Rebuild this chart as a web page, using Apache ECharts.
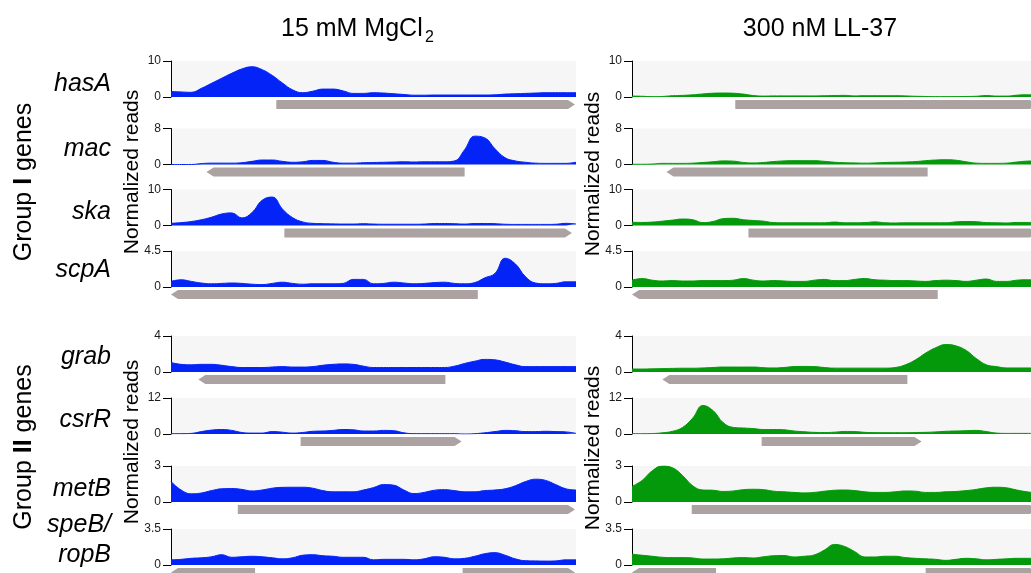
<!DOCTYPE html>
<html><head><meta charset="utf-8">
<script src="https://cdn.jsdelivr.net/npm/echarts@6/dist/echarts.min.js"></script>
<style>html,body{margin:0;padding:0;background:#fff}#c{width:1031px;height:573px}</style>
</head><body><div id="c"></div><script>
// ---------- data ----------
const geneNames = ['hasA','mac','ska','scpA','grab','csrR','metB','speB/ropB'];
const yMax = [10, 8, 10, 4.5, 4, 12, 3, 3.5];
const panelTitles = ['15 mM MgCl', '300 nM LL-37'];

// 15 mM MgCl2 (blue) normalized reads, evenly spaced positions 0..40
const mgHasA = [1.5,1.4,1.3,2.4,3.8,5.2,6.6,7.8,8.4,7.6,6.0,3.9,2.0,1.2,1.6,2.2,2.2,1.7,1.0,1.0,1.2,1.1,0.9,0.7,0.5,0.5,0.55,0.55,0.55,0.55,0.55,0.55,0.6,0.8,0.9,1.0,1.1,1.2,1.2,1.2,1.2];
const mgMac  = [0,0,0,0.2,0.3,0.3,0.3,0.4,0.7,1.0,1.0,0.7,0.5,0.6,0.9,0.9,0.5,0.3,0.3,0.4,0.45,0.5,0.55,0.6,0.55,0.6,0.6,0.6,0.8,3.3,6.3,5.9,3.5,1.5,0.8,0.5,0.3,0.25,0.25,0.25,0.5];
const mgSka  = [0.6,0.8,1.1,1.6,2.3,3.2,3.5,2.1,3.6,7.0,7.9,4.6,2.2,1.0,0.6,0.5,0.45,0.4,0.4,0.5,0.4,0.35,0.35,0.35,0.35,0.4,0.55,0.55,0.5,0.4,0.55,0.55,0.5,0.35,0.3,0.3,0.3,0.3,0.35,0.6,0.4];
const mgScpA = [0.7,0.9,0.7,0.5,0.4,0.45,0.5,0.45,0.35,0.3,0.45,0.6,0.45,0.35,0.4,0.4,0.4,0.45,0.95,0.95,0.4,0.45,0.6,0.5,0.4,0.45,0.55,0.6,0.45,0.4,0.55,1.15,1.7,3.6,2.9,1.3,0.5,0.4,0.45,0.65,0.65];
const mgGrab = [1.05,0.85,0.8,0.85,0.85,0.75,0.6,0.5,0.5,0.5,0.55,0.6,0.55,0.55,0.6,0.75,0.85,0.9,0.85,0.65,0.5,0.5,0.5,0.5,0.5,0.5,0.5,0.5,0.65,0.95,1.2,1.4,1.35,1.1,0.8,0.6,0.6,0.6,0.6,0.6,0.6];
const mgCsrR = [0.1,0.1,0.2,0.8,1.3,1.5,1.2,0.5,0.3,0.3,0.8,0.6,0.3,0.5,0.9,1.0,1.2,1.5,1.4,1.0,1.0,1.2,1.1,0.4,0.1,0.1,0.1,0.1,0.1,0,0.1,0.4,0.8,1.2,1.1,0.8,0.8,0.9,0.8,0.7,0.2];
const mgMetB = [1.7,1.0,0.68,0.75,0.95,1.1,1.12,1.05,0.92,1.0,1.15,1.22,1.23,1.23,1.15,0.95,0.85,0.85,0.85,1.0,1.2,1.45,1.4,1.0,0.7,0.8,0.98,1.03,0.95,0.85,0.85,0.95,1.0,1.1,1.35,1.7,1.9,1.8,1.45,1.1,1.0];
const mgSpeB = [0.5,0.55,0.65,0.7,0.8,1.0,0.75,0.8,0.85,0.8,0.7,0.6,0.7,0.95,1.0,0.9,0.85,0.75,0.75,0.75,0.5,0.55,0.55,0.55,0.5,0.6,0.8,0.75,0.6,0.65,0.85,1.1,1.2,0.95,0.6,0.42,0.4,0.38,0.4,0.5,0.5];

// 300 nM LL-37 (green) normalized reads
const llHasA = [0.25,0.2,0.1,0.15,0.35,0.45,0.6,0.85,1.05,1.1,1.05,0.8,0.4,0.25,0.3,0.3,0.3,0.3,0.3,0.35,0.4,0.45,0.3,0.35,0.35,0.35,0.35,0.3,0.2,0.15,0.1,0.1,0.1,0.15,0.2,0.4,0.25,0.25,0.5,0.6,0.6];
const llMac  = [0.05,0.05,0.1,0.25,0.25,0.25,0.3,0.45,0.6,0.8,0.75,0.45,0.35,0.45,0.65,0.8,0.85,0.85,0.85,0.7,0.5,0.4,0.35,0.3,0.35,0.45,0.5,0.55,0.65,0.85,1.0,1.05,0.95,0.6,0.3,0.25,0.25,0.3,0.55,0.75,0.8];
const llSka  = [0.9,0.85,0.95,1.2,1.5,1.8,1.6,0.8,1.1,1.9,2.0,1.6,1.4,1.2,0.8,0.75,0.75,0.75,0.75,0.75,0.95,0.75,0.75,0.8,1.0,0.75,0.7,0.75,0.75,0.75,0.75,0.75,1.0,1.1,1.05,0.8,0.75,0.7,0.85,0.85,0.85];
const llScpA = [0.85,1.05,0.85,0.75,0.8,0.75,0.75,0.8,0.8,0.8,0.85,1.05,0.85,0.75,0.8,0.75,0.7,0.7,0.85,0.95,0.8,0.8,0.95,1.05,0.9,0.85,0.8,0.8,0.75,0.7,0.8,0.85,0.8,0.7,0.85,1.0,0.7,0.7,0.85,0.9,0.9];
const llGrab = [0.33,0.33,0.35,0.38,0.4,0.42,0.42,0.45,0.5,0.55,0.55,0.55,0.55,0.48,0.45,0.5,0.6,0.62,0.6,0.5,0.43,0.43,0.43,0.43,0.43,0.43,0.5,0.8,1.35,2.1,2.7,3.05,2.9,2.4,1.5,0.8,0.6,0.45,0.45,0.45,0.45];
const llCsrR = [0.1,0.1,0.15,0.4,0.9,2.2,5.3,9.5,7.8,3.8,2.2,2.0,1.8,1.5,1.5,1.4,1.0,0.75,0.55,0.5,0.6,0.85,0.8,0.55,0.45,0.45,0.45,0.45,0.5,0.55,0.7,0.9,1.0,1.1,1.2,0.8,0.3,0.2,0.2,0.2,0.2];
const llMetB = [1.3,1.8,2.6,3.0,2.85,2.2,1.35,1.0,0.98,0.88,0.92,1.03,1.06,1.03,0.9,0.85,0.8,0.76,0.8,0.9,0.98,1.0,0.95,0.85,0.8,0.8,0.85,0.92,0.9,0.8,0.8,0.85,0.88,0.95,1.05,1.18,1.23,1.18,1.0,0.85,0.75];
const llSpeB = [1.05,0.95,0.85,0.75,0.72,0.72,0.68,0.58,0.58,0.6,0.68,0.72,0.68,0.8,0.9,0.92,0.78,0.85,0.98,1.45,2.0,1.8,1.3,0.78,0.78,0.85,0.85,0.72,0.65,0.6,0.55,0.45,0.55,0.65,0.6,0.5,0.55,0.6,0.65,0.65,0.65];

const mgReads = [mgHasA, mgMac, mgSka, mgScpA, mgGrab, mgCsrR, mgMetB, mgSpeB];
const llReads = [llHasA, llMac, llSka, llScpA, llGrab, llCsrR, llMetB, llSpeB];

// gene annotation arrows (track row, start, end, strand), in track position units
const geneRow    = [0, 1, 2, 3, 4, 5, 6, 7, 7];
const geneStrand = [1, -1, 1, -1, -1, 1, 1, -1, 1];
const mgGeneStart = [10.4, 3.5, 11.2, 0, 2.7, 12.8, 6.6, 0, 28.8];
const mgGeneEnd   = [39.9, 29.0, 39.6, 30.3, 27.1, 28.7, 39.9, 8.3, 39.9];
const llGeneStart = [10.2, 3.4, 11.5, 0, 3.0, 12.8, 5.9, 0, 29.0];
const llGeneEnd   = [40, 29.2, 40, 30.2, 27.2, 28.6, 40, 8.3, 40];

// ---------- layout & style ----------
const FONT = '"Liberation Sans", Arial, Helvetica, sans-serif';
const colLeft = [171, 632];
const plotW = 405;
const rowTop = [61, 128.5, 189.5, 251, 336, 398, 466, 529];
const trackH = 36;
const fillColor = ['#0424f7', '#04990a'];
const arrowColor = '#aca2a1';
const columns = [
  { reads: mgReads, gStart: mgGeneStart, gEnd: mgGeneEnd },
  { reads: llReads, gStart: llGeneStart, gEnd: llGeneEnd }
];

const grid = [], xAxis = [], yAxis = [], series = [];
columns.forEach((col, c) => {
  col.reads.forEach((vals, r) => {
    const xMax = vals.length - 1;
    const gi = grid.length;
    grid.push({ left: colLeft[c], width: plotW, top: rowTop[r], height: trackH,
      show: true, backgroundColor: '#f6f6f6', borderWidth: 0, outerBoundsMode: 'none', containLabel: false });
    xAxis.push({ gridIndex: gi, type: 'value', min: 0, max: xMax, show: false });
    yAxis.push({ gridIndex: gi, type: 'value', min: 0, max: yMax[r], interval: yMax[r],
      axisLine: { show: true, lineStyle: { color: '#000', width: 1 } },
      axisTick: { show: true, length: 8, lineStyle: { color: '#000', width: 1 } },
      axisLabel: { show: true, fontSize: 12, color: '#1a1a1a', margin: 10, fontFamily: FONT,
        showMinLabel: true, showMaxLabel: true },
      splitLine: { show: false } });
    series.push({ type: 'line', xAxisIndex: gi, yAxisIndex: gi,
      data: vals.map((v, i) => [i, v]), smooth: 0.45, symbol: 'none', silent: true,
      lineStyle: { color: fillColor[c], width: 1 },
      areaStyle: { color: fillColor[c], opacity: 1 } });
    const ai = grid.length;
    grid.push({ left: colLeft[c], width: plotW, top: rowTop[r] + trackH + 3, height: 9,
      show: false, outerBoundsMode: 'none', containLabel: false });
    xAxis.push({ gridIndex: ai, type: 'value', min: 0, max: xMax, show: false });
    yAxis.push({ gridIndex: ai, type: 'value', min: 0, max: 1, show: false });
    const arrows = [];
    geneRow.forEach((gr, k) => { if (gr === r) arrows.push([col.gStart[k], col.gEnd[k], geneStrand[k]]); });
    series.push({ type: 'custom', xAxisIndex: ai, yAxisIndex: ai, clip: false, silent: true,
      data: arrows,
      renderItem: (params, api) => {
        const s = api.value(0), e = api.value(1), d = api.value(2);
        const pTop = api.coord([s, 1]);
        const pBot = api.coord([e, 0]);
        const x0 = pTop[0], x1 = pBot[0], yT = pTop[1], yB = pBot[1], yM = (yT + yB) / 2;
        const h = 7;
        const pts = d > 0
          ? [[x0, yT], [x1 - h, yT], [x1, yM], [x1 - h, yB], [x0, yB]]
          : [[x0, yM], [x0 + h, yT], [x1, yT], [x1, yB], [x0 + h, yB]];
        return { type: 'polygon', shape: { points: pts }, style: { fill: arrowColor } };
      } });
  });
});

// ---------- text ----------
const graphic = [];
function txt(x, y, text, size, opts) {
  const o = Object.assign({ align: 'center', verticalAlign: 'middle', rotation: 0, style: {} }, opts || {});
  graphic.push({ type: 'text', x: x, y: y, rotation: o.rotation, silent: true,
    style: Object.assign({ text: text, fontSize: size, fontFamily: FONT, fill: '#000',
      align: o.align, verticalAlign: o.verticalAlign,
      textAlign: o.align, textVerticalAlign: o.verticalAlign }, o.style) });
}
txt(281, 29.5, panelTitles[0], 25, { align: 'left' });
txt(425, 38, '2', 16, { align: 'left' });
txt(820, 29.5, panelTitles[1], 25);
const geneLabelY = [84, 149, 212.5, 270.5, 357.5, 420.5, 489.5];
geneNames.slice(0, 7).forEach((g, i) => txt(111, geneLabelY[i], g, 25, { align: 'right', style: { fontStyle: 'italic' } }));
txt(111, 525.5, 'speB/', 25, { align: 'right', style: { fontStyle: 'italic' } });
txt(111, 555.5, 'ropB', 25, { align: 'right', style: { fontStyle: 'italic' } });
const R = Math.PI / 2;
txt(132, 172, 'Normalized reads', 21, { rotation: R });
txt(132, 442, 'Normalized reads', 21, { rotation: R });
txt(593, 174, 'Normalized reads', 21, { rotation: R });
txt(593, 448, 'Normalized reads', 21, { rotation: R });
const groupRich = { n: { fontSize: 25, fontFamily: FONT, fill: '#000' }, b: { fontSize: 25, fontFamily: FONT, fontWeight: 'bold', fill: '#000' } };
txt(24, 182, '{n|Group }{b|I}{n| genes}', 25, { rotation: R, style: { rich: groupRich } });
txt(24, 447, '{n|Group }{b|II}{n| genes}', 25, { rotation: R, style: { rich: groupRich } });

const chart = echarts.init(document.getElementById('c'), null, { renderer: 'canvas' });
chart.setOption({ animation: false, backgroundColor: '#fff', grid, xAxis, yAxis, series, graphic });
</script></body></html>
